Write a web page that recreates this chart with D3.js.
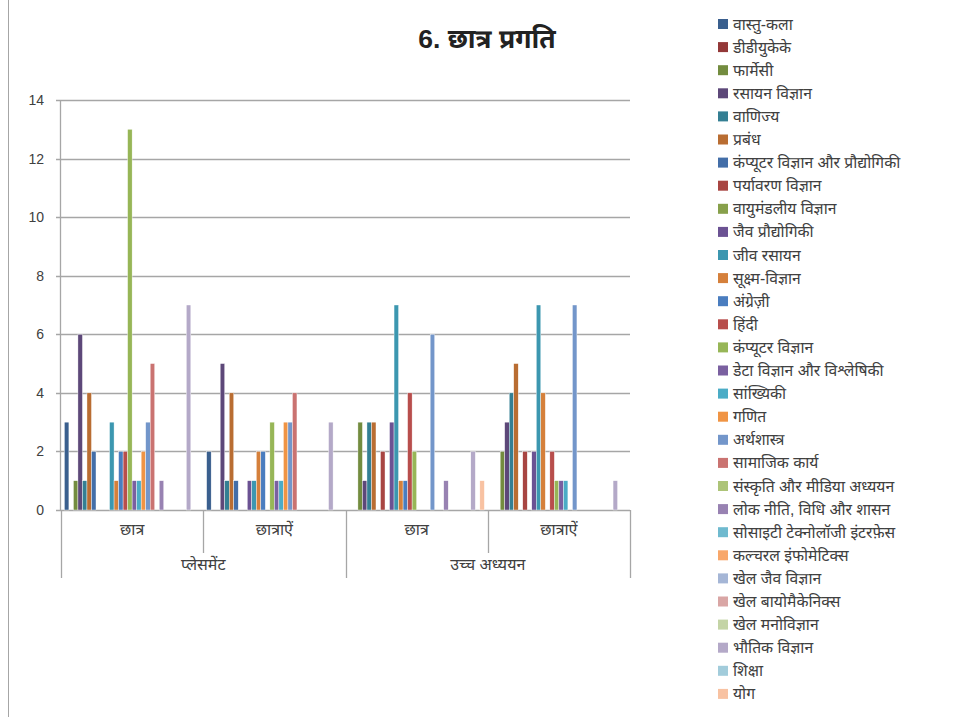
<!DOCTYPE html>
<html>
<head>
<meta charset="utf-8">
<script src="https://d3js.org/d3.v7.min.js"></script>
<style>
  body { margin: 0; background: #fff; }
  svg { display: block; font-family: "Liberation Sans", Arial, "Noto Sans Devanagari", "Noto Sans", sans-serif; }
</style>
</head>
<body>
<svg id="chart"></svg>
<script>
// categories: [outer group, inner group]
var categories = [
  ["प्लेसमेंट", "छात्र"],
  ["प्लेसमेंट", "छात्राऐं"],
  ["उच्च अध्ययन", "छात्र"],
  ["उच्च अध्ययन", "छात्राऐं"]
];

var seriesNames = [
  "वास्तु-कला", "डीडीयुकेके", "फार्मेसी", "रसायन विज्ञान", "वाणिज्य", "प्रबंध",
  "कंप्यूटर विज्ञान और प्रौद्योगिकी", "पर्यावरण विज्ञान", "वायुमंडलीय विज्ञान",
  "जैव प्रौद्योगिकी", "जीव रसायन", "सूक्ष्म-विज्ञान", "अंग्रेज़ी", "हिंदी",
  "कंप्यूटर विज्ञान", "डेटा विज्ञान और विश्लेषिकी", "सांख्यिकी", "गणित",
  "अर्थशास्त्र", "सामाजिक कार्य", "संस्कृति और मीडिया अध्ययन",
  "लोक नीति, विधि और शासन", "सोसाइटी टेक्नोलॉजी इंटरफ़ेस", "कल्चरल इंफोमेटिक्स",
  "खेल जैव विज्ञान", "खेल बायोमैकेनिक्स", "खेल मनोविज्ञान", "भौतिक विज्ञान",
  "शिक्षा", "योग"
];

// one value per series, per category (0 = no bar)
var placementBoys  = [3,0,1,6,1,4,2,0,0,0,3,1,2,2,13,1,1,2,3,5,0,1,0,0,0,0,0,7,0,0];
var placementGirls = [2,0,0,5,1,4,1,0,0,1,1,2,2,0,3,1,1,3,3,4,0,0,0,0,0,0,0,3,0,0];
var studyBoys      = [0,0,3,1,3,3,0,2,0,3,7,1,1,4,2,0,0,0,6,0,0,1,0,0,0,0,0,2,0,1];
var studyGirls     = [0,0,2,3,4,5,0,2,0,2,7,4,0,2,1,1,1,0,7,0,0,0,0,0,0,0,0,1,0,0];

var seriesColors = [
  "#3A5F8E", "#933838", "#738C3F", "#5D4879", "#347F93", "#B96D32",
  "#436EA8", "#A84542", "#87A04B", "#6B5293", "#3C97B0", "#D5803B",
  "#4A7DBF", "#B84E4C", "#97B657", "#7A60A0", "#4BACC6", "#F09444",
  "#7396CA", "#CA7371", "#ADC478", "#9882B2", "#6FBACF", "#F8A76A",
  "#A5B6D6", "#D9A6A5", "#C4D4A6", "#B4A9C8", "#A2CCDB", "#F8C2A2"
];

var yTicks = [0, 2, 4, 6, 8, 10, 12, 14];

var width = 956, height = 717;
var svg = d3.select("#chart").attr("width", width).attr("height", height);

var plot = {left: 61, right: 630, top: 100, bottom: 510};
var gridColor = "#A6A6A6";
var textColor = "#404040";

// left chart-area border
svg.append("line")
  .attr("x1", 8.5).attr("x2", 8.5).attr("y1", 0).attr("y2", height)
  .attr("stroke", "#A6A6A6");

svg.append("text")
  .attr("x", 487).attr("y", 48)
  .attr("text-anchor", "middle")
  .attr("font-size", 26.5).attr("font-weight", "bold")
  .attr("fill", "#222")
  .text("6. छात्र प्रगति");

var rows = [placementBoys, placementGirls, studyBoys, studyGirls];

var x0 = d3.scaleBand()
  .domain(d3.range(categories.length))
  .range([plot.left, plot.right]);

var x1 = d3.scaleBand()
  .domain(d3.range(seriesNames.length))
  .range([0, x0.bandwidth()])
  .paddingOuter(0.75)
  .paddingInner(0);

var y = d3.scaleLinear().domain([0, 14]).range([plot.bottom, plot.top]);

// gridlines
svg.append("g").selectAll("line")
  .data(yTicks)
  .enter().append("line")
    .attr("x1", plot.left - 5).attr("x2", plot.right)
    .attr("y1", function(d) { return Math.round(y(d)) + 0.5; })
    .attr("y2", function(d) { return Math.round(y(d)) + 0.5; })
    .attr("stroke", gridColor).attr("stroke-width", 1.3);

// y axis line
svg.append("line")
  .attr("x1", plot.left - 0.5).attr("x2", plot.left - 0.5)
  .attr("y1", plot.top).attr("y2", plot.bottom)
  .attr("stroke", gridColor).attr("stroke-width", 1.3);

svg.append("g").selectAll("text")
  .data(yTicks)
  .enter().append("text")
    .attr("x", 44).attr("y", function(d) { return y(d) + 5; })
    .attr("text-anchor", "end")
    .attr("font-size", 14).attr("fill", textColor)
    .text(function(d) { return d; });

// bars
var groups = svg.append("g").selectAll("g")
  .data(rows)
  .enter().append("g")
    .attr("transform", function(d, i) { return "translate(" + x0(i) + ",0)"; });

groups.selectAll("rect")
  .data(function(d) { return d.map(function(v, j) { return {s: j, v: v}; }); })
  .enter().filter(function(d) { return d.v > 0; }).append("rect")
    .attr("x", function(d) { return x1(d.s); })
    .attr("width", x1.bandwidth())
    .attr("y", function(d) { return y(d.v); })
    .attr("height", function(d) { return y(0) - y(d.v); })
    .attr("fill", function(d) { return seriesColors[d.s]; })
    .attr("stroke", "#fff").attr("stroke-width", 0.4);

// category axis: inner labels and separators
var sepY1 = plot.bottom, innerBottom = 553, outerBottom = 578;
var bounds = d3.range(categories.length + 1).map(function(i) {
  return i < categories.length ? x0(i) : plot.right;
});

svg.append("g").selectAll("line")
  .data(bounds)
  .enter().append("line")
    .attr("x1", function(d) { return Math.round(d) + 0.5; })
    .attr("x2", function(d) { return Math.round(d) + 0.5; })
    .attr("y1", sepY1)
    .attr("y2", function(d, i) {
      var outer = i === 0 || i === bounds.length - 1 || categories[i][0] !== categories[i - 1][0];
      return outer ? outerBottom : innerBottom;
    })
    .attr("stroke", gridColor).attr("stroke-width", 1.3);

svg.append("g").selectAll("text")
  .data(categories)
  .enter().append("text")
    .attr("x", function(d, i) { return x0(i) + x0.bandwidth() / 2; })
    .attr("y", 535)
    .attr("text-anchor", "middle")
    .attr("font-size", 16).attr("fill", textColor)
    .text(function(d) { return d[1]; });

var outerGroups = d3.groups(categories.map(function(c, i) { return {name: c[0], i: i}; }), function(d) { return d.name; });
svg.append("g").selectAll("text")
  .data(outerGroups)
  .enter().append("text")
    .attr("x", function(d) {
      var first = d[1][0].i, last = d[1][d[1].length - 1].i;
      return (x0(first) + x0(last) + x0.bandwidth()) / 2;
    })
    .attr("y", 570)
    .attr("text-anchor", "middle")
    .attr("font-size", 16).attr("fill", textColor)
    .text(function(d) { return d[0]; });

// legend
var legend = svg.append("g").selectAll("g")
  .data(seriesNames)
  .enter().append("g")
    .attr("transform", function(d, i) { return "translate(718," + (19 + i * 23.1) + ")"; });

legend.append("rect")
  .attr("width", 10).attr("height", 10)
  .attr("fill", function(d, i) { return seriesColors[i]; });

legend.append("text")
  .attr("x", 15).attr("y", 10.5)
  .attr("font-size", 15.7).attr("fill", textColor)
  .text(function(d) { return d; });
</script>
</body>
</html>
